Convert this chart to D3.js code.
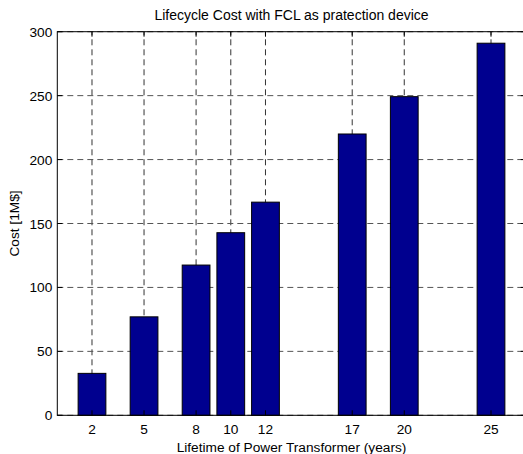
<!DOCTYPE html>
<html><head><meta charset="utf-8">
<script src="https://cdn.jsdelivr.net/npm/d3@7"></script>
<style>body{margin:0;background:#fff}svg{display:block}text{font-family:"Liberation Sans",Arial,sans-serif}</style>
</head><body>
<svg id="c" width="523" height="454"></svg>
<script>
const years = [2, 5, 8, 10, 12, 17, 20, 25];
const costs = [32.8, 77, 117.5, 142.8, 166.7, 220, 249.2, 291];
const yTicks = [0, 50, 100, 150, 200, 250, 300];
const title = "Lifecycle Cost with FCL as pratection device";
const xLabel = "Lifetime of Power Transformer (years)";
const yLabel = "Cost [1M$]";

const svg = d3.select("#c");
const L = 57.3, R = 525.7, T = 31.7, B = 415.3;
const x = d3.scaleLinear().domain([0, 27]).range([L, R]);
const y = d3.scaleLinear().domain([0, 300]).range([B, T]);
const bw = x(1.6) - x(0);
const fs = 13.7;

const g = svg.append("g");
// grid
g.selectAll(".gx").data(years).enter().append("line")
  .attr("x1", d => x(d)).attr("x2", d => x(d)).attr("y1", B).attr("y2", T)
  .attr("stroke", "#333").attr("stroke-dasharray", "6,4");
g.selectAll(".gy").data(yTicks).enter().append("line")
  .attr("x1", L).attr("x2", R).attr("y1", d => y(d)).attr("y2", d => y(d))
  .attr("stroke", "#555").attr("stroke-dasharray", "6,4");
// bars
g.selectAll(".bar").data(years).enter().append("rect")
  .attr("x", (d) => x(d) - bw / 2).attr("width", bw)
  .attr("y", (d, i) => y(costs[i])).attr("height", (d, i) => B - y(costs[i]))
  .attr("fill", "#00008f").attr("stroke", "#000").attr("stroke-width", 1);
// axes box
g.append("rect").attr("x", L).attr("y", T).attr("width", R - L).attr("height", B - T)
  .attr("fill", "none").attr("stroke", "#000");
// ticks inward
const tl = 5;
years.forEach(d => {
  g.append("line").attr("x1", x(d)).attr("x2", x(d)).attr("y1", B).attr("y2", B - tl).attr("stroke", "#000");
  g.append("line").attr("x1", x(d)).attr("x2", x(d)).attr("y1", T).attr("y2", T + tl).attr("stroke", "#000");
});
yTicks.forEach(d => {
  g.append("line").attr("x1", L).attr("x2", L + tl).attr("y1", y(d)).attr("y2", y(d)).attr("stroke", "#000");
  g.append("line").attr("x1", R).attr("x2", R - tl).attr("y1", y(d)).attr("y2", y(d)).attr("stroke", "#000");
});
// tick labels
g.selectAll(".xl").data(years).enter().append("text")
  .attr("x", d => x(d)).attr("y", 433.5).attr("text-anchor", "middle")
  .attr("font-size", fs).text(d => d);
g.selectAll(".yl").data(yTicks).enter().append("text")
  .attr("x", L - 5).attr("y", d => y(d) + 5).attr("text-anchor", "end")
  .attr("font-size", fs).text(d => d);
// labels
svg.append("text").attr("x", (L + R) / 2).attr("y", 20).attr("text-anchor", "middle")
  .attr("font-size", 14).text(title);
svg.append("text").attr("x", (L + R) / 2).attr("y", 451.5).attr("text-anchor", "middle")
  .attr("font-size", fs).text(xLabel);
svg.append("text").attr("transform", `translate(19,${(T + B) / 2}) rotate(-90)`)
  .attr("text-anchor", "middle").attr("font-size", fs).text(yLabel);
</script>
</body></html>
